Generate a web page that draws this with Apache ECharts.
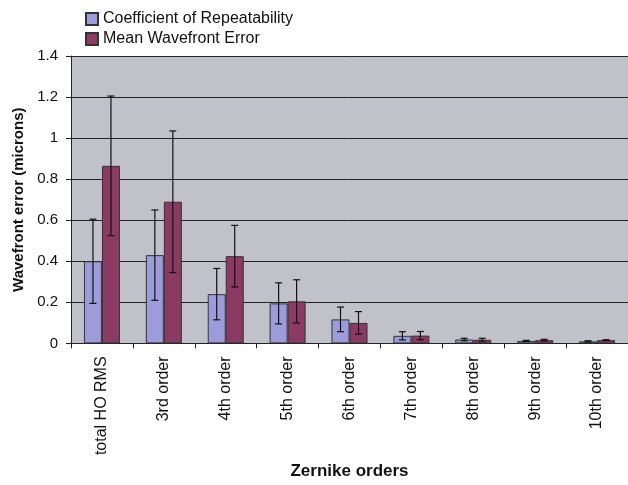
<!DOCTYPE html>
<html>
<head>
<meta charset="utf-8">
<script src="https://cdn.jsdelivr.net/npm/echarts@6/dist/echarts.min.js"></script>
<style>html,body{margin:0;padding:0;background:#fff;}#c{width:628px;height:485px;}</style>
</head>
<body>
<div id="c"></div>
<script>
var categories = ['total HO RMS','3rd order','4th order','5th order','6th order','7th order','8th order','9th order','10th order'];
var repeatability = [0.40, 0.43, 0.24, 0.195, 0.117, 0.037, 0.019, 0.012, 0.010];
var repeatabilityErr = [0.205, 0.22, 0.125, 0.10, 0.06, 0.02, 0.006, 0.003, 0.003];
var meanError = [0.865, 0.69, 0.425, 0.205, 0.10, 0.038, 0.018, 0.016, 0.016];
var meanErrorErr = [0.34, 0.345, 0.15, 0.105, 0.055, 0.02, 0.007, 0.004, 0.002];
var yTicks = [0, 0.2, 0.4, 0.6, 0.8, 1, 1.2, 1.4];

var BAR_W = 18;
var FONT = 'Liberation Sans, Arial, sans-serif';

function errData(vals, errs) {
  return vals.map(function (v, i) { return [i, v - errs[i], v + errs[i]]; });
}
function errRender(offset) {
  return function (params, api) {
    var lo = api.coord([api.value(0), api.value(1)]);
    var hi = api.coord([api.value(0), api.value(2)]);
    var x = lo[0] + offset;
    var cap = 3.5;
    var style = { stroke: '#111', lineWidth: 1.2 };
    return {
      type: 'group',
      children: [
        { type: 'line', shape: { x1: x, y1: lo[1], x2: x, y2: hi[1] }, style: style },
        { type: 'line', shape: { x1: x - cap, y1: lo[1], x2: x + cap, y2: lo[1] }, style: style },
        { type: 'line', shape: { x1: x - cap, y1: hi[1], x2: x + cap, y2: hi[1] }, style: style }
      ]
    };
  };
}

var chart = echarts.init(document.getElementById('c'), null, { renderer: 'canvas' });
chart.setOption({
  animation: false,
  textStyle: { fontFamily: FONT },
  legend: {
    orient: 'vertical',
    left: 80, top: 6,
    itemWidth: 12, itemHeight: 12, itemGap: 4,
    icon: 'rect',
    textStyle: { fontSize: 16, color: '#111', fontFamily: FONT },
    data: ['Coefficient of Repeatability', 'Mean Wavefront Error']
  },
  grid: { left: 71, top: 56, width: 558, bottom: 137, show: true, backgroundColor: '#C1C1C9', borderWidth: 0 },
  xAxis: {
    type: 'category',
    data: categories,
    name: 'Zernike orders',
    nameLocation: 'middle',
    nameGap: 112,
    nameTextStyle: { fontSize: 17, fontWeight: 'bold', color: '#111', fontFamily: FONT },
    axisLine: { lineStyle: { color: '#222', width: 1 } },
    axisTick: { show: true, length: 5, lineStyle: { color: '#222' } },
    axisLabel: { rotate: 90, fontSize: 16, color: '#111', margin: 13, fontFamily: FONT }
  },
  yAxis: {
    type: 'value',
    min: 0, max: 1.4, interval: 0.2,
    name: 'Wavefront error (microns)',
    nameLocation: 'middle',
    nameGap: 45,
    nameTextStyle: { fontSize: 15, fontWeight: 'bold', color: '#111', fontFamily: FONT },
    axisLine: { show: true, lineStyle: { color: '#222', width: 1 } },
    axisTick: { show: true, length: 5, lineStyle: { color: '#222' } },
    axisLabel: {
      fontSize: 15, color: '#111', margin: 13, fontFamily: FONT,
      formatter: function (v) { var t = yTicks.filter(function (y) { return Math.abs(y - v) < 1e-9; }); return t.length ? String(t[0]) : ''; }
    },
    splitLine: { show: true, lineStyle: { color: '#222', width: 1 } }
  },
  series: [
    {
      name: 'Coefficient of Repeatability', type: 'bar', data: repeatability,
      barWidth: BAR_W, barGap: '0%',
      itemStyle: { color: '#9C9CDA', borderColor: '#333', borderWidth: 1 }
    },
    {
      name: 'Mean Wavefront Error', type: 'bar', data: meanError,
      barWidth: BAR_W, barGap: '0%',
      itemStyle: { color: '#8A3A63', borderColor: '#333', borderWidth: 1 }
    },
    {
      type: 'custom', data: errData(repeatability, repeatabilityErr),
      renderItem: errRender(-BAR_W / 2), encode: { x: 0, y: [1, 2] }, z: 10, silent: true
    },
    {
      type: 'custom', data: errData(meanError, meanErrorErr),
      renderItem: errRender(BAR_W / 2), encode: { x: 0, y: [1, 2] }, z: 10, silent: true
    }
  ]
});
</script>
</body>
</html>
